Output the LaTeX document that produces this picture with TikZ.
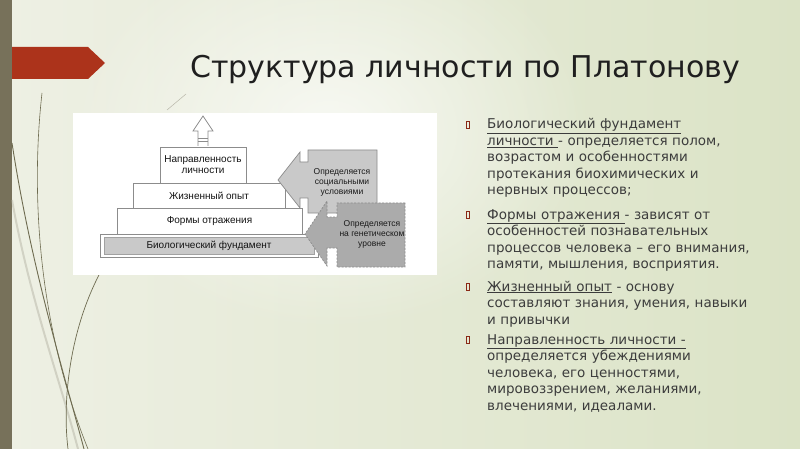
\documentclass[tikz,border=0pt]{standalone}
\usepackage{fontspec}
\setmainfont{DejaVu Sans}
\newfontfamily\schemefont{Liberation Sans}
\usetikzlibrary{fadings}
\tikzfading[name=glow, inner color=transparent!0, outer color=transparent!100]
\definecolor{bgleft}{HTML}{EEF0E4}
\definecolor{bgright}{HTML}{DBE3C6}
\definecolor{barolive}{HTML}{77715A}
\definecolor{bannerred}{HTML}{AC331B}
\definecolor{decoline}{HTML}{6E6B50}
\definecolor{bodytext}{HTML}{3C3C3C}
\definecolor{boxline}{HTML}{8C8C8C}
\definecolor{lightgrey}{HTML}{C9C9C9}
\definecolor{darkgrey}{HTML}{ABABAB}
\tikzset{
  level/.style={draw=boxline, fill=white, line width=0.7pt, inner sep=0pt,
    font=\schemefont\fontsize{10}{11}\selectfont, align=center, text=black!92},
  callout/.style={draw=boxline, line width=0.7pt},
  calltext/.style={font=\schemefont\fontsize{8.5}{10}\selectfont, align=center, text=black!90},
  para/.style={anchor=base west, text width=310pt, inner sep=0pt, align=left,
    text=bodytext, font=\fontsize{13.5}{16.5}\selectfont},
  bulletbox/.style={draw=bannerred!80!black, line width=0.7pt}
}
\begin{document}
\begin{tikzpicture}[x=1pt,y=-1pt]
    \useasboundingbox (0,0) rectangle (800,449);
    \shade[left color=bgleft, right color=bgright] (0,0) rectangle (800,449);
    \fill[white, path fading=glow, opacity=0.7] (330,130) ellipse (260 and 200);

    % left bar, curves and banner
    \fill[barolive] (0,0) rectangle (12,449);
    \draw[decoline, line width=0.6pt] (42,93) .. controls (30,200) and (40,330) .. (88,449);
    \draw[decoline, line width=0.9pt] (12,143) .. controls (30,260) and (60,360) .. (84,449);
    \draw[decoline!60, line width=2pt, opacity=0.4] (12,200) .. controls (30,300) and (60,380) .. (78,449);
    \draw[decoline, line width=0.7pt] (100,273) .. controls (70,330) and (62,400) .. (68,449);
    \draw[decoline!50, line width=0.5pt] (167,110) -- (186,94);
    \fill[bannerred] (12,47) -- (88,47) -- (105,63) -- (88,79) -- (12,79) -- cycle;

    \node[anchor=base west, inner sep=0pt, font=\fontsize{30}{36}\selectfont, text=black!88] (title) at (190,78) {Структура личности по Платонову};

    % pyramid
    \fill[white] (73,113) rectangle (437,275);
    \draw[boxline, fill=white, line width=0.7pt] (198,146) -- (198,131) -- (193,131) -- (203,116) -- (213,131) -- (208,131) -- (208,146);
    \draw[boxline] (198,138) -- (208,138) (198,141) -- (208,141);

    \draw[boxline, fill=white, line width=0.7pt] (100,234) rectangle (318,257);
    \node[level, fill=lightgrey, draw=lightgrey!80!black, minimum width=210, minimum height=17] (bio) at (209,245.5) {Биологический фундамент};
    \node[level, minimum width=185, minimum height=26] (forms) at (209.5,221) {Формы отражения};
    \node[level, minimum width=152, minimum height=25] (exper) at (209,195.5) {Жизненный опыт};
    \node[level, minimum width=86, minimum height=36] (orient) at (203,165) {Направленность\\личности};

    \draw[callout, fill=lightgrey] (377,150) -- (308,150) -- (308,162) -- (300,162) -- (300,152) -- (278,180) -- (300,208) -- (300,198) -- (308,198) -- (308,213) -- (377,213) -- cycle;
    \node[calltext] (social) at (342,182) {Определяется\\социальными\\условиями};
    \draw[callout, dash pattern=on 2pt off 1.5pt, fill=darkgrey] (405,203) -- (337,203) -- (337,217) -- (327,217) -- (327,201) -- (305,234) -- (327,266) -- (327,248) -- (337,248) -- (337,267) -- (405,267) -- cycle;
    \node[calltext] (genetic) at (372,234) {Определяется\\на генетическом\\уровне};

    % text on the right
    \foreach \by in {125,215,287,340}
        \draw[bulletbox] (466,{\by-4}) rectangle (469,{\by+3});
    \node[para] (biotext) at (487,129) {\underline{Биологический фундамент}\\\underline{личности }- определяется полом,\\возрастом и особенностями\\протекания биохимических и\\нервных процессов;};
    \node[para] (formstext) at (487,219) {\underline{Формы отражения }- зависят от\\особенностей познавательных\\процессов человека – его внимания,\\памяти, мышления, восприятия.};
    \node[para] (expertext) at (487,291) {\underline{Жизненный опыт} - основу\\составляют знания, умения, навыки\\и привычки};
    \node[para] (orienttext) at (487,344) {\underline{Направленность личности -}\\определяется убеждениями\\человека, его ценностями,\\мировоззрением, желаниями,\\влечениями, идеалами.};
\end{tikzpicture}
\end{document}
